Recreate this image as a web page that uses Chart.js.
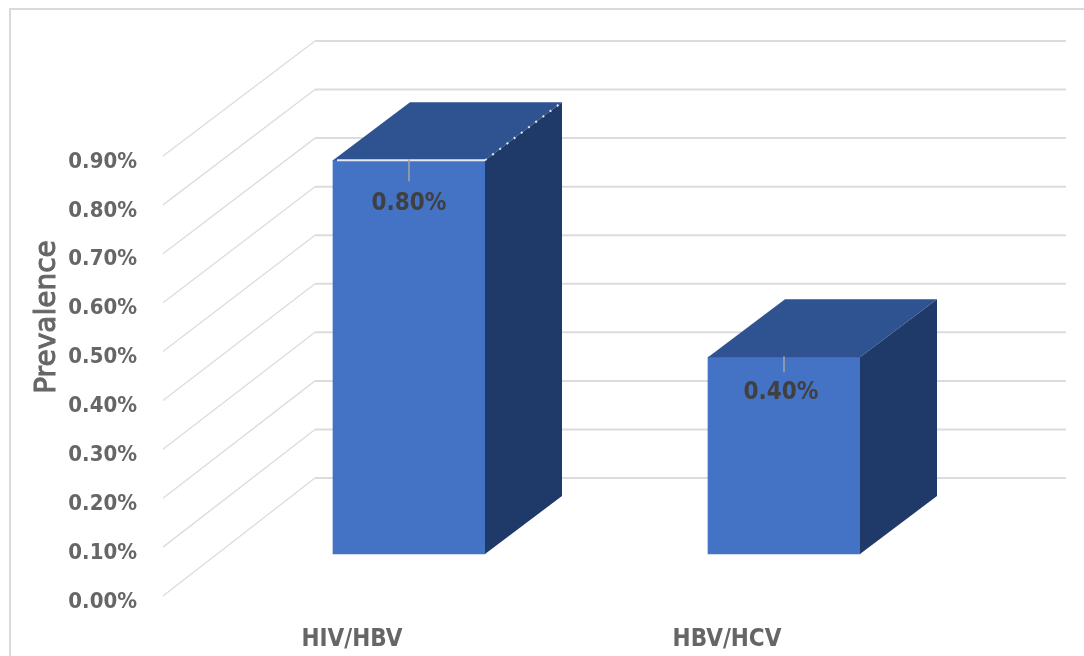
<!DOCTYPE html>
<html>
<head>
<meta charset="utf-8">
<title>Prevalence</title>
<script src="https://cdn.jsdelivr.net/npm/chart.js@4"></script>
<style>
  html, body { margin: 0; padding: 0; background: #fff; overflow: hidden; }
  #wrap { position: relative; width: 1084px; height: 656px; }
  #frame { position: absolute; left: 9px; top: 8px; right: 0; bottom: 0; border-left: 2px solid #d9d9d9; border-top: 2px solid #d9d9d9; }
  canvas { position: absolute; left: 0; top: 0; }
</style>
</head>
<body>
<div id="wrap">
  <div id="frame"></div>
  <canvas id="prevChart" width="1084" height="656"></canvas>
</div>
<script>
const categories = ['HIV/HBV', 'HBV/HCV'];
const prevalence = [0.80, 0.40];
const axisTicks = [0, 0.1, 0.2, 0.3, 0.4, 0.5, 0.6, 0.7, 0.8, 0.9];
const axisTitle = 'Prevalence';

const TEXT_FONT = '"DejaVu Sans Condensed", "DejaVu Sans", sans-serif';

// back wall of the 3D box, the chart area is the front plane
const wall = { left: 315, right: 1066, top: 41, bottom: 478 };
// how far the bars sit behind the front plane, and how deep they are
const barShift = { x: 58.5, y: -42 };
const barDepth = { x: 77, y: -58 };
// leader line length and label distance below the bar top
const leaders = [{ len: 21, drop: 44, nudge: 0 }, { len: 15, drop: 36, nudge: -3 }];

const box3d = {
  id: 'box3d',
  beforeDatasetsDraw(chart) {
    const { ctx, chartArea, scales } = chart;
    const top = axisTicks[axisTicks.length - 1];
    ctx.save();
    ctx.strokeStyle = '#dcdcdc';
    axisTicks.forEach(v => {
      const backY = wall.bottom - (v / top) * (wall.bottom - wall.top);
      ctx.lineWidth = 1.3;
      ctx.beginPath();
      ctx.moveTo(chartArea.left, scales.y.getPixelForValue(v));
      ctx.lineTo(wall.left, backY);
      ctx.stroke();
      ctx.lineWidth = 2;
      ctx.beginPath();
      ctx.moveTo(wall.left, backY);
      ctx.lineTo(wall.right, backY);
      ctx.stroke();
    });

    // axis title sits above the middle of the axis, so it is placed by hand
    ctx.translate(48, 317);
    ctx.rotate(-Math.PI / 2);
    ctx.font = '28px "DejaVu Sans", sans-serif';
    ctx.textAlign = 'center';
    ctx.textBaseline = 'middle';
    ctx.fillStyle = '#666666';
    ctx.strokeStyle = '#666666';
    ctx.lineWidth = 1;
    ctx.fillText(axisTitle, 0, 0);
    ctx.strokeText(axisTitle, 0, 0);
    ctx.restore();
  },
  beforeDatasetDraw(chart) {
    chart.ctx.save();
    chart.ctx.translate(barShift.x, barShift.y);
  },
  afterDatasetDraw(chart, args) {
    const ctx = chart.ctx;
    ctx.restore();
    args.meta.data.forEach((bar, i) => {
      const p = bar.getProps(['x', 'y', 'base', 'width'], true);
      const left = p.x - p.width / 2 + barShift.x;
      const right = p.x + p.width / 2 + barShift.x;
      const y = p.y + barShift.y;
      const base = p.base + barShift.y;

      // top face
      ctx.fillStyle = '#2f5391';
      ctx.beginPath();
      ctx.moveTo(left, y);
      ctx.lineTo(left + barDepth.x, y + barDepth.y);
      ctx.lineTo(right + barDepth.x, y + barDepth.y);
      ctx.lineTo(right, y);
      ctx.closePath();
      ctx.fill();

      // side face
      ctx.fillStyle = '#1f3a68';
      ctx.beginPath();
      ctx.moveTo(right, y);
      ctx.lineTo(right + barDepth.x, y + barDepth.y);
      ctx.lineTo(right + barDepth.x, base + barDepth.y);
      ctx.lineTo(right, base);
      ctx.closePath();
      ctx.fill();

      // the taller bar has a pale rim along its front and right top edges
      if (i === 0) {
        ctx.strokeStyle = '#e6e9f0';
        ctx.lineWidth = 2;
        ctx.beginPath();
        ctx.moveTo(left + 4, y);
        ctx.lineTo(right, y);
        ctx.stroke();
        ctx.setLineDash([2, 7]);
        ctx.beginPath();
        ctx.moveTo(right, y);
        ctx.lineTo(right + barDepth.x, y + barDepth.y);
        ctx.stroke();
        ctx.setLineDash([]);
      }

      // leader line and value label
      const lead = leaders[i];
      const cx = left + p.width / 2;
      ctx.strokeStyle = '#a6a6a6';
      ctx.lineWidth = 1.5;
      ctx.beginPath();
      ctx.moveTo(cx, y - 1);
      ctx.lineTo(cx, y + lead.len);
      ctx.stroke();
      ctx.fillStyle = '#404040';
      ctx.font = 'bold 24px ' + TEXT_FONT;
      ctx.textAlign = 'center';
      ctx.textBaseline = 'middle';
      ctx.fillText(prevalence[i].toFixed(2) + '%', cx + lead.nudge, y + lead.drop);
    });
  }
};

new Chart(document.getElementById('prevChart').getContext('2d'), {
  type: 'bar',
  data: {
    labels: categories,
    datasets: [{
      label: axisTitle,
      data: prevalence,
      yAxisID: 'yBars',
      backgroundColor: '#4472c4',
      barThickness: 152,
      clip: false
    }]
  },
  options: {
    responsive: false,
    animation: false,
    layout: { padding: { top: 156, right: 171, bottom: 0, left: 0 } },
    plugins: {
      legend: { display: false },
      tooltip: { enabled: false }
    },
    scales: {
      x: {
        grid: { display: false, drawTicks: false },
        border: { display: false },
        ticks: { color: '#666666', font: { family: TEXT_FONT, size: 24, weight: 'bold' }, padding: 29, labelOffset: 1.5 },
        afterFit(scale) { scale.height = 60; }
      },
      y: {
        min: 0,
        max: 0.9,
        grid: { display: false, drawTicks: false },
        border: { display: false },
        afterBuildTicks(scale) { scale.ticks = axisTicks.map(v => ({ value: v })); },
        ticks: {
          color: '#666666',
          font: { family: TEXT_FONT, size: 22, weight: 'bold' },
          padding: 26,
          labelOffset: 6,
          callback: v => v.toFixed(2) + '%'
        },
        afterFit(scale) { scale.width = 163; }
      },
      // the bars sit further back, so their value axis is a touch steeper
      yBars: { display: false, min: 0, max: 0.894 }
    }
  },
  plugins: [box3d]
});
</script>
</body>
</html>
